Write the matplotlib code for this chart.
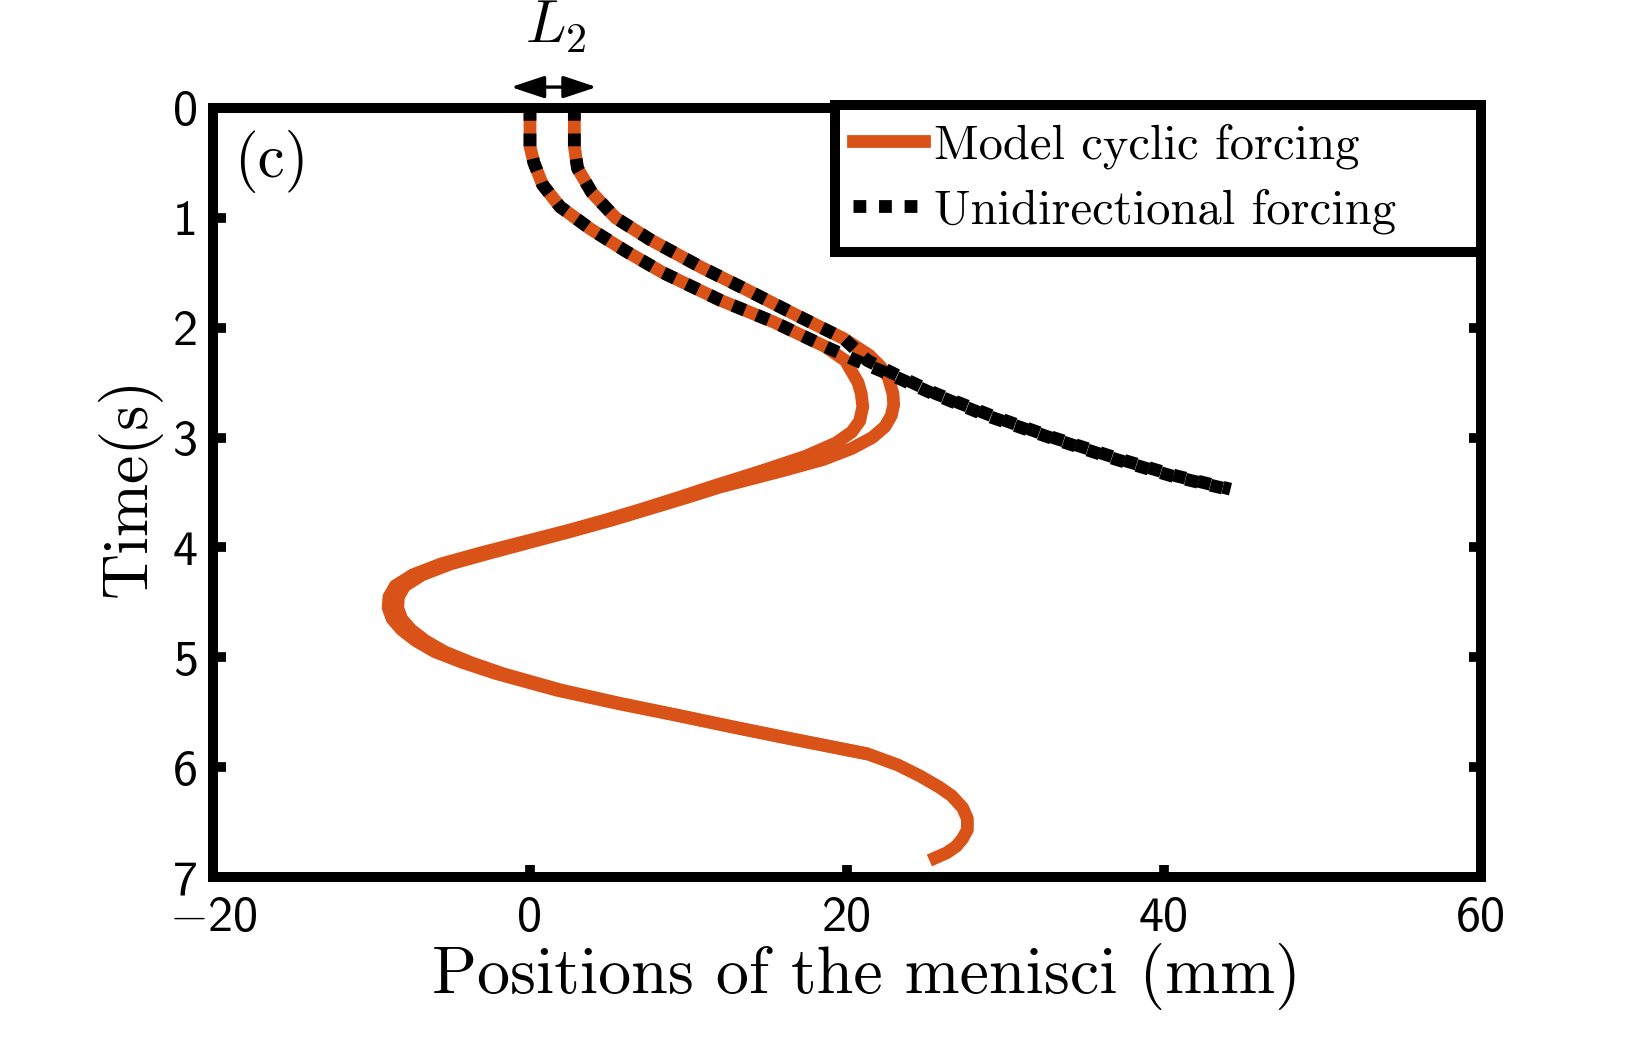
import numpy as np
import matplotlib
matplotlib.use("Agg")
import matplotlib.pyplot as plt

plt.rcParams['mathtext.fontset'] = 'cm'

# --- data ---
# shared early part of the two menisci (same for both forcings)
t_top_left = [0.0, 0.35, 0.5, 0.7, 0.9, 1.1, 1.3, 1.5, 1.75, 1.95, 2.17]
x_top_left = [0.0, 0.0, 0.25, 0.8, 1.9, 3.8, 6.0, 8.4, 12.0, 15.4, 18.6]
t_top_right = [0.0, 0.35, 0.55, 0.77, 1.0, 1.2, 1.45, 1.65, 1.9, 2.1]
x_top_right = [2.8, 2.8, 3.0, 3.9, 5.4, 7.6, 10.8, 13.6, 17.0, 19.8]

# model cyclic forcing, continuation
t_cyc_left = [2.3, 2.4, 2.5, 2.6, 2.72, 2.85, 2.95, 3.05, 3.17, 3.3, 3.45, 3.55, 3.65,
              3.75, 3.85, 3.95, 4.05, 4.15, 4.25, 4.35, 4.45, 4.55, 4.65, 4.75, 4.85,
              4.95, 5.05, 5.15, 5.3, 5.42, 5.53, 5.63, 5.73, 5.8, 5.88, 5.98, 6.08,
              6.18, 6.26, 6.37, 6.47, 6.57, 6.65, 6.72, 6.78, 6.85]
x_cyc_left = [19.9, 20.3, 20.7, 20.9, 21.0, 20.8, 20.3, 19.3, 17.4, 14.7, 11.4, 9.3, 7.1,
              4.8, 2.3, -0.4, -3.1, -5.6, -7.4, -8.5, -8.9, -8.95, -8.7, -8.1, -7.2,
              -6.0, -4.2, -2.1, 1.7, 5.5, 9.3, 12.6, 16.0, 18.5, 21.3, 23.2, 24.6,
              25.8, 26.6, 27.3, 27.6, 27.6, 27.3, 26.9, 26.3, 25.2]
t_cyc_right = [2.25, 2.35, 2.45, 2.6, 2.7, 2.8, 2.9, 3.0, 3.1, 3.2, 3.3, 3.45, 3.55, 3.65,
               3.75, 3.85, 3.95, 4.05, 4.15, 4.25, 4.35, 4.45, 4.55, 4.65, 4.75, 4.85,
               4.95, 5.05, 5.15, 5.3, 5.42, 5.53, 5.63, 5.73, 5.8, 5.88]
x_cyc_right = [21.4, 22.1, 22.6, 22.9, 22.95, 22.8, 22.4, 21.6, 20.3, 18.5, 16.0, 12.0, 9.8,
               7.5, 5.2, 2.7, 0.1, -2.5, -5.0, -6.8, -7.9, -8.3, -8.35, -8.1, -7.5, -6.6,
               -5.4, -3.7, -1.7, 2.0, 5.7, 9.4, 12.7, 16.1, 18.5, 21.3]

# unidirectional forcing, continuation
t_uni_left = [2.3, 2.45, 2.6, 2.8, 3.0, 3.2, 3.35, 3.46]
x_uni_left = [20.6, 23.1, 25.4, 28.8, 32.8, 37.0, 40.5, 43.7]
t_uni_right = [2.3, 2.45, 2.6, 2.8, 3.0, 3.2, 3.35, 3.47]
x_uni_right = [21.3, 23.4, 25.6, 29.1, 33.0, 37.3, 40.8, 44.2]

xticks = [-20, 0, 20, 40, 60]
yticks = [0, 1, 2, 3, 4, 5, 6, 7]
legend_labels = ['Model cyclic forcing', 'Unidirectional forcing']

orange = '#D95319'
serif = 'cmr10'
sans = 'cmss10'

fig = plt.figure(figsize=(16.36, 10.46), dpi=100)
ax = fig.add_axes([0.1302, 0.1616, 0.775, 0.7352])

lw = 9.2
for tt, xx, tc, xc in [(t_top_left, x_top_left, t_cyc_left, x_cyc_left),
                       (t_top_right, x_top_right, t_cyc_right, x_cyc_right)]:
    ax.plot(np.concatenate([xx, xc]), np.concatenate([tt, tc]), color=orange,
            lw=lw, solid_joinstyle='round', solid_capstyle='butt', zorder=2)
ax.plot([], [], color=orange, lw=lw, label=legend_labels[0])

for tt, xx, tu, xu in [(t_top_left, x_top_left, t_uni_left, x_uni_left),
                       (t_top_right, x_top_right, t_uni_right, x_uni_right)]:
    ax.plot(np.concatenate([xx, xu]), np.concatenate([tt, tu]), color='black',
            lw=lw, linestyle=(0, (1, 1)), dash_capstyle='butt', zorder=3)
ax.plot([], [], color='black', lw=lw, linestyle=(0, (1, 1)), label=legend_labels[1])

ax.set_xlim(-20, 60)
ax.set_ylim(7, 0)

ax.set_xticks(xticks, [f'$-${abs(v)}' if v < 0 else str(v) for v in xticks])
ax.set_yticks(yticks, [str(v) for v in yticks])
for lab in ax.get_xticklabels() + ax.get_yticklabels():
    lab.set_fontfamily(sans)
    lab.set_fontsize(36)
ax.tick_params(axis='both', direction='in', length=9, width=7, color='black',
               top=True, right=True)
ax.tick_params(axis='x', pad=14)
ax.tick_params(axis='y', pad=11)

for sp in ax.spines.values():
    sp.set_linewidth(7.2)

ax.set_xlabel('Positions of the menisci (mm)', family=serif, fontsize=47.5, labelpad=1)
ax.xaxis.label.set_x(0.515)
ax.set_ylabel('Time(s)', family=serif, fontsize=46, labelpad=8)
ax.yaxis.label.set_y(0.507)

ax.text(0.046, 0.93, '(c)', transform=ax.transAxes, family=serif, fontsize=44,
        ha='center', va='center')

# L2 arrow above the axes
ax.annotate('', xy=(4.2, -0.19), xytext=(-1.2, -0.19),
            arrowprops=dict(arrowstyle='<|-|>,head_length=1.2,head_width=0.4',
                            lw=2.4, color='black', shrinkA=0, shrinkB=0,
                            mutation_scale=17),
            annotation_clip=False)
ax.text(1.6, -0.74, r'$L_2$', fontsize=43, ha='center', va='center', clip_on=False)

leg = ax.legend(loc='upper right', bbox_to_anchor=(0.4905, 0.805, 0.5095, 0.199),
                mode='expand', prop={'family': serif, 'size': 35}, handlelength=1.45,
                handletextpad=0.2, borderpad=0.38, labelspacing=0.4, borderaxespad=0,
                fancybox=False, framealpha=1, edgecolor='black')
leg.get_frame().set_linewidth(7.2)

fig.savefig('out.png', dpi=100)
